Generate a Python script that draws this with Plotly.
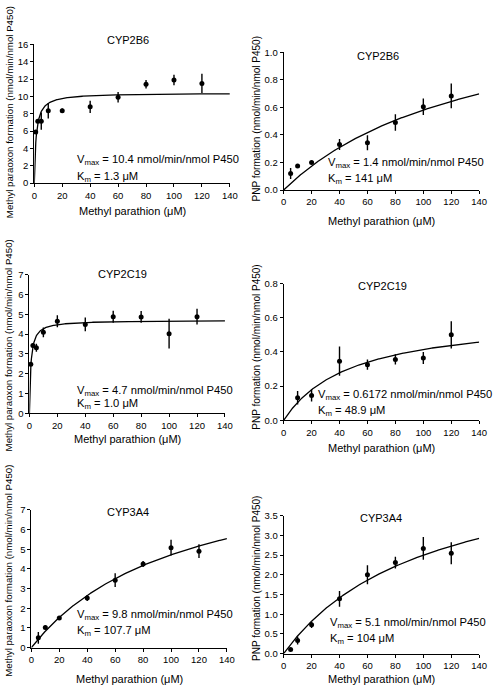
import numpy as np
import plotly.graph_objects as go

W, H = 496, 692
FONT = "Liberation Sans, Arial, sans-serif"

titles = ["CYP2B6", "CYP2B6", "CYP2C19", "CYP2C19", "CYP3A4", "CYP3A4"]
y_titles = ["Methyl paraoxon formation (nmol/min/nmol P450)",
            "PNP formation (nmol/min/nmol P450)"] * 3
x_title = "Methyl parathion (\u03bcM)"

# data
x_2b6_mpo = [1, 2.5, 5, 10, 20, 40, 60, 80, 100, 120]
y_2b6_mpo = [5.9, 7.15, 7.15, 8.35, 8.35, 8.8, 9.9, 11.4, 11.9, 11.5]
e_2b6_mpo = [0.2, 0.2, 1.0, 0.9, 0.25, 0.7, 0.6, 0.5, 0.6, 1.1]

x_2b6_pnp = [5, 10, 20, 40, 60, 80, 100, 120]
y_2b6_pnp = [0.12, 0.175, 0.2, 0.33, 0.343, 0.49, 0.605, 0.683]
e_2b6_pnp = [0.04, 0.01, 0.01, 0.04, 0.055, 0.06, 0.06, 0.09]

x_2c19_mpo = [1, 2.5, 5, 10, 20, 40, 60, 80, 100, 120]
y_2c19_mpo = [2.48, 3.43, 3.31, 4.09, 4.65, 4.49, 4.88, 4.87, 4.02, 4.88]
e_2c19_mpo = [0.05, 0.1, 0.2, 0.25, 0.3, 0.35, 0.3, 0.3, 0.75, 0.4]

x_2c19_pnp = [10, 20, 40, 60, 80, 100, 120]
y_2c19_pnp = [0.132, 0.145, 0.346, 0.325, 0.356, 0.364, 0.50]
e_2c19_pnp = [0.04, 0.035, 0.085, 0.03, 0.03, 0.035, 0.08]

x_3a4_mpo = [5, 10, 20, 40, 60, 80, 100, 120]
y_3a4_mpo = [0.5, 1.02, 1.5, 2.52, 3.43, 4.25, 5.08, 4.9]
e_3a4_mpo = [0.3, 0.1, 0.05, 0.15, 0.35, 0.15, 0.4, 0.35]

x_3a4_pnp = [5, 10, 20, 40, 60, 80, 100, 120]
y_3a4_pnp = [0.1, 0.33, 0.73, 1.39, 2.0, 2.31, 2.67, 2.55]
e_3a4_pnp = [0.02, 0.1, 0.08, 0.2, 0.24, 0.15, 0.29, 0.28]

vmax = [10.4, 1.4, 4.7, 0.6172, 9.8, 5.1]
km = [1.3, 141, 1.0, 48.9, 107.7, 104]
vmax_labels = ["10.4", "1.4", "4.7", "0.6172", "9.8", "5.1"]
km_labels = ["1.3", "141", "1.0", "48.9", "107.7", "104"]

y_ranges = [[0, 16], [0, 1.0], [0, 7], [0, 0.8], [0, 7], [0, 3.5]]
y_dticks = [2, 0.2, 1, 0.2, 1, 0.5]
y_formats = ["d", ".1f", "d", ".1f", "d", ".1f"]

xs = [x_2b6_mpo, x_2b6_pnp, x_2c19_mpo, x_2c19_pnp, x_3a4_mpo, x_3a4_pnp]
ys = [y_2b6_mpo, y_2b6_pnp, y_2c19_mpo, y_2c19_pnp, y_3a4_mpo, y_3a4_pnp]
es = [e_2b6_mpo, e_2b6_pnp, e_2c19_mpo, e_2c19_pnp, e_3a4_mpo, e_3a4_pnp]

# layout geometry (pixels): left, right, top, bottom
boxes = [(32, 232, 39, 180), (287, 487, 47, 187),
         (27, 227, 273, 414), (287, 487, 282, 421),
         (29, 229, 512, 652), (287, 487, 518, 658)]
title_px = [(128, 35), (383, 51), (122.7, 272.7), (388, 285), (128.3, 514.3), (386.3, 520.7)]
xtitle_py = [208, 218.3, 440, 449, 684, 684]
ytitle_px = [(6, 108), (259, 115), (6, 345), (259, 347), (6, 574), (259, 582)]
ytitle_size = [9.7, 10, 9.7, 10, 9.7, 10]
text_pos = [(29.0, 2.7, 0.7), (30.6, 0.195, 0.08), (32.5, 1.13, 0.5),
            (23.1, 0.147, 0.054), (31.1, 1.67, 0.85), (31.8, 0.775, 0.375)]

fig = go.Figure()
annotations = []
layout_axes = {}
xc = np.linspace(0, 140, 400)
for i in range(6):
    ax = "" if i == 0 else str(i + 1)
    xa, ya = "x" + ax, "y" + ax
    l, r, t, b = boxes[i]
    fig.add_trace(go.Scatter(x=xc, y=vmax[i] * xc / (km[i] + xc), mode="lines",
                             line=dict(color="black", width=1.3), xaxis=xa, yaxis=ya,
                             showlegend=False, hoverinfo="skip"))
    fig.add_trace(go.Scatter(x=xs[i], y=ys[i], mode="markers",
                             marker=dict(color="black", size=5),
                             error_y=dict(type="data", array=es[i], color="black",
                                          thickness=1.4, width=0),
                             xaxis=xa, yaxis=ya, showlegend=False, cliponaxis=False))
    layout_axes["xaxis" + ax] = dict(
        domain=[l / W, r / W], anchor=ya, range=[0, 140], dtick=20, tick0=0,
        showline=True, linecolor="black", linewidth=1, ticks="outside", ticklen=3,
        tickcolor="black", showgrid=False, zeroline=False,
        tickfont=dict(size=9.5, color="black", family=FONT))
    layout_axes["yaxis" + ax] = dict(
        domain=[1 - b / H, 1 - t / H], anchor=xa, range=y_ranges[i], dtick=y_dticks[i],
        tick0=0, tickformat=y_formats[i],
        showline=True, linecolor="black", linewidth=1, ticks="outside", ticklen=3,
        tickcolor="black", showgrid=False, zeroline=False,
        tickfont=dict(size=9.5, color="black", family=FONT))
    tx, ty = title_px[i]
    annotations.append(dict(text=titles[i], xref="paper", yref="paper",
                            x=tx / W, y=1 - ty / H, showarrow=False,
                            xanchor="center", yanchor="middle",
                            font=dict(size=11, color="black", family=FONT)))
    annotations.append(dict(text=x_title, xref="paper", yref="paper",
                            x=(l + r) / 2 / W, y=1 - xtitle_py[i] / H, showarrow=False,
                            xanchor="center", yanchor="middle",
                            font=dict(size=11, color="black", family=FONT)))
    yx, yy = ytitle_px[i]
    annotations.append(dict(text=y_titles[i], xref="paper", yref="paper",
                            x=yx / W, y=1 - yy / H, showarrow=False, textangle=-90,
                            xanchor="center", yanchor="middle",
                            font=dict(size=ytitle_size[i], color="black", family=FONT)))
    px_, vy, ky = text_pos[i]
    annotations.append(dict(text="V<sub>max</sub> = " + vmax_labels[i] + " nmol/min/nmol P450",
                            xref=xa, yref=ya, x=px_, y=vy, showarrow=False,
                            xanchor="left", yanchor="middle",
                            font=dict(size=11.2, color="black", family=FONT)))
    annotations.append(dict(text="K<sub>m</sub> = " + km_labels[i] + " \u03bcM",
                            xref=xa, yref=ya, x=px_, y=ky, showarrow=False,
                            xanchor="left", yanchor="middle",
                            font=dict(size=11.2, color="black", family=FONT)))

fig.update_layout(width=W, height=H, margin=dict(l=0, r=0, t=0, b=0),
                  plot_bgcolor="white", paper_bgcolor="white",
                  font=dict(family=FONT, color="black"),
                  annotations=annotations, **layout_axes)
fig.write_html("out.html", config={"displayModeBar": False},
               post_script="document.body.style.margin='0';document.body.style.overflow='hidden';")
